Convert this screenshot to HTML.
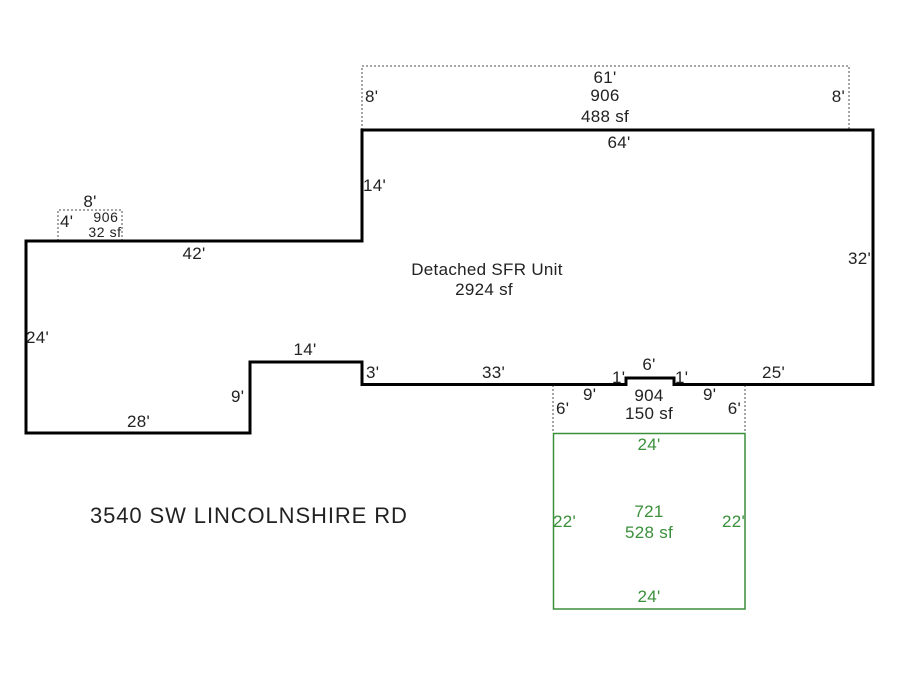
<!DOCTYPE html>
<html><head><meta charset="utf-8"><style>
html,body{margin:0;padding:0;background:#fff;}
svg{display:block;}
text{font-family:"Liberation Sans",Arial,sans-serif;font-size:17px;fill:#222;letter-spacing:0.3px;}
.s{font-size:14px;letter-spacing:0.6px;}
.g{fill:#3a8f3a;}
</style></head><body>
<svg width="900" height="675" viewBox="0 0 900 675" xmlns="http://www.w3.org/2000/svg">
<rect width="900" height="675" fill="#fff"/>
<!-- dotted boxes -->
<g fill="none" stroke="#888" stroke-width="1.5" stroke-dasharray="2,2">
<polyline points="362,130 362,66 849,66 849,130"/>
<polyline points="58,241 58,210 122,210 122,241"/>
<line x1="553" y1="385" x2="553" y2="433"/>
<line x1="745" y1="385" x2="745" y2="433"/>
</g>
<!-- green garage -->
<rect x="553.5" y="433.5" width="191.5" height="175.5" fill="none" stroke="#3a8f3a" stroke-width="1.5"/>
<!-- main polygon -->
<polygon points="362,130 873,130 873,384.5 674,384.5 674,378 626,378 626,384.5 362,384.5 362,362 250,362 250,433 26,433 26,241 362,241" fill="none" stroke="#000" stroke-width="3" stroke-linejoin="miter"/>

<!-- top porch labels -->
<text x="605" y="83" text-anchor="middle">61'</text>
<text x="605" y="101" text-anchor="middle">906</text>
<text x="605" y="122" text-anchor="middle">488 sf</text>
<text x="365" y="102">8'</text>
<text x="845" y="102" text-anchor="end">8'</text>
<text x="619" y="148" text-anchor="middle">64'</text>
<text x="363" y="191">14'</text>

<!-- small box -->
<text x="90" y="207" text-anchor="middle">8'</text>
<text x="60" y="227">4'</text>
<text class="s" x="106" y="222" text-anchor="middle">906</text>
<text class="s" x="105" y="237" text-anchor="middle">32 sf</text>

<text x="194" y="259" text-anchor="middle">42'</text>
<text x="487" y="275" text-anchor="middle">Detached SFR Unit</text>
<text x="484" y="295" text-anchor="middle">2924 sf</text>
<text x="848" y="264">32'</text>
<text x="26" y="343">24'</text>
<text x="305" y="355" text-anchor="middle">14'</text>
<text x="366" y="378">3'</text>
<text x="482" y="378">33'</text>
<text x="231" y="402">9'</text>
<text x="127" y="427">28'</text>

<!-- notch area -->
<text x="649" y="370" text-anchor="middle">6'</text>
<text x="612" y="383">1'</text>
<text x="675" y="383">1'</text>
<text x="762" y="378">25'</text>
<text x="583" y="400">9'</text>
<text x="703" y="400">9'</text>
<text x="649" y="401" text-anchor="middle">904</text>
<text x="649" y="419" text-anchor="middle">150 sf</text>
<text x="556" y="414">6'</text>
<text x="741" y="414" text-anchor="end">6'</text>

<!-- green labels -->
<text class="g" x="649" y="450" text-anchor="middle">24'</text>
<text class="g" x="553" y="527">22'</text>
<text class="g" x="745" y="527" text-anchor="end">22'</text>
<text class="g" x="649" y="517" text-anchor="middle">721</text>
<text class="g" x="649" y="538" text-anchor="middle">528 sf</text>
<text class="g" x="649" y="602" text-anchor="middle">24'</text>

<text x="90" y="523" style="font-size:22px;letter-spacing:0.9px;">3540 SW LINCOLNSHIRE RD</text>
</svg>
</body></html>
